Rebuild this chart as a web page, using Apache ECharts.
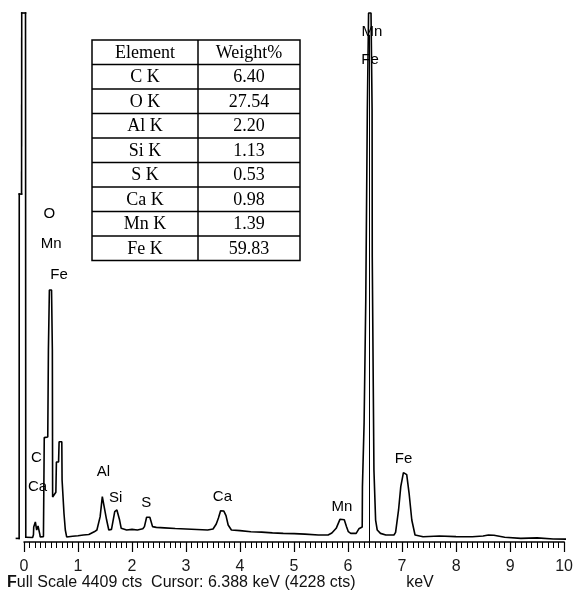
<!DOCTYPE html>
<html>
<head>
<meta charset="utf-8">
<style>
html,body{margin:0;padding:0;background:#fff;}
#chart{width:576px;height:601px;}
</style>
<script src="https://cdn.jsdelivr.net/npm/echarts@6/dist/echarts.min.js"></script>
</head>
<body>
<div id="chart"></div>
<script>
// ---- data ----
const fullScale = 4409;
const cursorKeV = 6.388;
const cursorCts = 4228;

const xTicks = [0,1,2,3,4,5,6,7,8,9,10];

// noise peak around 0 keV  [keV, counts]
const noisePeak = [
  [-0.14,30],[-0.09,30],[-0.088,2900],[-0.045,2900],[-0.042,4409],[0.028,4409],[0.033,40]
];
// C, O, Fe L region
const lowEnergy = [
  [0.033,40],[0.06,35],[0.16,38],[0.175,60],[0.18,125],[0.2,130],[0.21,167],[0.225,167],[0.235,100],
  [0.255,105],[0.26,133],[0.28,133],[0.295,60],[0.30,42],[0.36,45],
  [0.37,60],[0.375,870],[0.44,875],[0.452,1600],[0.47,2100],[0.51,2100],[0.525,1600],
  [0.53,375],[0.59,415],[0.60,667],[0.64,667],[0.65,836],[0.70,836],[0.705,517],
  [0.74,240],[0.765,100],[0.79,42]
];
// Al, Si, S, Ca, Mn region
const midEnergy = [
  [0.80,42],[0.9,48],[1.0,52],[1.1,58],[1.2,62],[1.3,85],[1.35,100],[1.41,211],[1.45,378],
  [1.48,378],[1.53,183],[1.57,100],[1.62,105],[1.68,253],[1.72,267],[1.77,183],[1.80,114],
  [1.9,100],[2.0,105],[2.1,100],[2.2,110],[2.23,128],[2.27,206],[2.33,206],[2.38,128],
  [2.45,122],[2.6,118],[2.8,112],[3.0,108],[3.2,104],[3.4,100],[3.5,108],[3.56,150],
  [3.6,200],[3.64,261],[3.7,258],[3.74,220],[3.78,142],[3.84,100],[4.0,95],[4.2,86],
  [4.4,82],[4.6,76],[4.8,72],[5.0,70],[5.2,66],[5.45,58],[5.63,58],[5.7,75],[5.78,114],
  [5.85,189],[5.93,185],[5.97,130],[6.005,86],[6.05,72],[6.15,72]
];
// Fe K alpha / K beta and high energy tail
const highEnergy = [
  [6.2,110],[6.262,125],[6.266,458],[6.292,458],[6.297,992],[6.323,992],[6.328,2017],
  [6.352,2017],[6.357,3600],[6.38,4409],[6.425,4409],[6.445,3600],[6.448,2375],[6.476,2375],
  [6.479,600],[6.506,600],[6.51,183],[6.535,183],[6.54,100],[6.6,72],[6.7,58],[6.85,58],
  [6.88,80],[6.935,267],[6.976,461],[7.025,578],[7.086,561],[7.13,406],[7.18,183],[7.24,58],
  [7.39,44],[7.69,50],[8.0,45],[8.3,44],[8.5,50],[8.6,58],[8.7,56],[8.9,39],[9.2,30],
  [9.5,34],[9.8,25],[10.05,24]
];

// peak labels [text, keV, counts]
const peakLabels = [
  ['O',0.468,2733],['Mn',0.505,2483],['Fe',0.65,2225],['C',0.231,700],['Ca',0.25,458],
  ['Al',1.47,583],['Si',1.698,367],['S',2.262,325],['Ca',3.674,375],['Mn',5.887,292],
  ['Fe',7.026,692],['Mn',6.443,4250],['Fe',6.406,4017]
];

// quantification table
const tableHeader = ['Element','Weight%'];
const tableElements = ['C K','O K','Al K','Si K','S K','Ca K','Mn K','Fe K'];
const tableWeights = [6.40,27.54,2.20,1.13,0.53,0.98,1.39,59.83];

// ---- build chart ----
const spectrum = lowEnergy.concat(midEnergy, highEnergy);
const SANS = '"Liberation Sans", Arial, sans-serif';

const tL = 92, tT = 40, c1 = 106, c2 = 102, rh = 24.5;
const nRows = tableElements.length + 1;
const tW = c1 + c2, tH = rh * nRows;
const tableGraphics = [];
tableGraphics.push({type:'rect', shape:{x:tL,y:tT,width:tW,height:tH},
  style:{fill:'#fff',stroke:'#000',lineWidth:1.5}, z:10});
tableGraphics.push({type:'line', shape:{x1:tL+c1,y1:tT,x2:tL+c1,y2:tT+tH},
  style:{stroke:'#000',lineWidth:1.5}, z:11});
for (let i = 1; i < nRows; i++) {
  tableGraphics.push({type:'line', shape:{x1:tL,y1:tT+rh*i,x2:tL+tW,y2:tT+rh*i},
    style:{stroke:'#000',lineWidth:1.5}, z:11});
}
const rows = [tableHeader].concat(tableElements.map((e,i)=>[e, tableWeights[i].toFixed(2)]));
rows.forEach((r,i)=>{
  [0,1].forEach(j=>{
    tableGraphics.push({type:'text', z:12,
      x: j===0 ? tL + c1/2 : tL + c1 + c2/2,
      y: tT + rh*i + rh/2 + 1,
      style:{text:r[j], fill:'#000', font:'18px "Liberation Serif", "DejaVu Serif", serif',
        align:'center', verticalAlign:'middle'}});
  });
});

const chart = echarts.init(document.getElementById('chart'), null, {renderer:'canvas'});
const option = {
  animation:false,
  backgroundColor:'#fff',
  grid:{left:24, right:3, top:13, bottom:59, containLabel:false},
  xAxis:{
    type:'value', min:xTicks[0], max:xTicks[xTicks.length-1], interval:1,
    axisLine:{show:true, onZero:false, lineStyle:{color:'#000', width:1.5}},
    axisTick:{show:true, length:10, lineStyle:{color:'#000', width:1.2}},
    minorTick:{show:true, splitNumber:10, length:6, lineStyle:{color:'#000', width:1}},
    axisLabel:{margin:17, fontSize:16, color:'#1a1a1a', fontFamily:SANS,
      showMinLabel:true, showMaxLabel:true},
    splitLine:{show:false}
  },
  yAxis:{type:'value', min:0, max:fullScale, show:false, splitLine:{show:false}},
  series:[
    {
      // noise peak straddles 0 keV, partly left of the axis start
      type:'custom', clip:false, z:3, silent:true,
      data:noisePeak,
      renderItem:function(params, api){
        if (params.dataIndex === 0) return null;
        const p0 = api.coord(noisePeak[params.dataIndex-1]);
        const p1 = api.coord([api.value(0), api.value(1)]);
        return {type:'line', shape:{x1:p0[0],y1:p0[1],x2:p1[0],y2:p1[1]},
          style:{stroke:'#000', lineWidth:1.6, lineCap:'square'}};
      }
    },
    {
      type:'line', data:spectrum, symbol:'none', showSymbol:false, clip:false,
      lineStyle:{color:'#000', width:1.6}, z:3,
      markLine:{silent:true, symbol:'none', label:{show:false}, animation:false,
        lineStyle:{color:'#000', width:1, type:'solid'},
        data:[[{coord:[cursorKeV,0]},{coord:[cursorKeV,cursorCts]}]]}
    },
    {
      type:'scatter', symbol:'circle', symbolSize:1, itemStyle:{color:'#fff', opacity:0}, z:5,
      data:peakLabels.map(p=>({name:p[0], value:[p[1],p[2]]})),
      label:{show:true, position:'inside', formatter:'{b}', fontSize:15, color:'#000',
        opacity:1, textBorderWidth:0, fontFamily:SANS}
    }
  ],
  graphic:tableGraphics.concat([
    {type:'text', x:7, y:583, z:12,
      style:{text:'{b|F}ull Scale ' + fullScale + ' cts  Cursor: ' + cursorKeV.toFixed(3) + ' keV (' + cursorCts + ' cts)',
        fill:'#111', font:'16px ' + SANS, verticalAlign:'middle',
        rich:{b:{fontWeight:'bold', fontSize:16, fill:'#111', fontFamily:SANS}}}},
    {type:'text', x:420, y:583, z:12,
      style:{text:'keV', fill:'#111', font:'16px ' + SANS,
        align:'center', verticalAlign:'middle'}}
  ])
};
chart.setOption(option);
</script>
</body>
</html>
